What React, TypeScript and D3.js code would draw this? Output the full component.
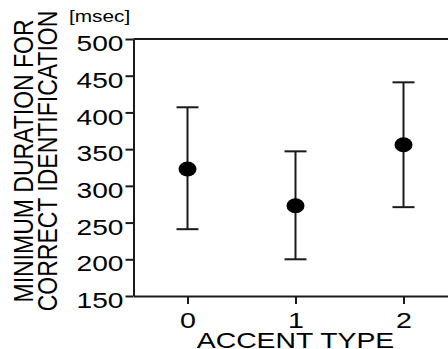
import React, { useEffect, useRef } from 'react';
import * as d3 from 'd3';

// values (msec)
const accentTypes = [0, 1, 2];
const meanDuration = [323, 273, 356];
const upperDuration = [407, 347, 441];
const lowerDuration = [241, 200, 271];
const yTickValues = [150, 200, 250, 300, 350, 400, 450, 500];
const yLabelLines = ['MINIMUM DURATION FOR', 'CORRECT IDENTIFICATION'];
const xLabel = 'ACCENT TYPE';
const unitLabel = '[msec]';

const W = 448;
const H = 349;
const FONT = '"Liberation Sans", Arial, Helvetica, sans-serif';
const INK = '#1a1a1a';

const App: React.FC = () => {
  const svgRef = useRef<SVGSVGElement>(null);

  useEffect(() => {
    if (!svgRef.current) return;
    const root = d3.select(svgRef.current);
    root.selectAll('*').remove();

    const margin = { top: 39, left: 133.5, bottom: 296 };

    // x runs past the right edge of the picture (the frame is cut off there)
    const x = d3.scaleLinear().domain([-0.5, 2.5]).range([margin.left, margin.left + 324]);
    const y = d3.scaleLinear().domain([150, 500]).range([margin.bottom, margin.top]);

    // Y axis
    const yAxis = root
      .append('g')
      .attr('transform', `translate(${margin.left},0)`)
      .call(d3.axisLeft(y).tickValues(yTickValues).tickSize(8).tickSizeOuter(0));
    yAxis.select('.domain').attr('stroke', INK).attr('stroke-width', 2);
    yAxis.selectAll('.tick line').attr('stroke', INK).attr('stroke-width', 2);
    yAxis
      .selectAll('.tick text')
      .attr('x', 0)
      .attr('dy', '0.35em')
      .attr('transform', 'translate(-10,4) scale(1.28,1)')
      .attr('text-anchor', 'end')
      .attr('fill', '#000')
      .attr('font-family', FONT)
      .attr('font-size', 22);

    // X axis
    const xAxis = root
      .append('g')
      .attr('transform', `translate(0,${margin.bottom})`)
      .call(
        d3
          .axisBottom(x)
          .tickValues(accentTypes)
          .tickFormat(d3.format('d'))
          .tickSize(8)
          .tickSizeOuter(0)
      );
    xAxis.select('.domain').attr('stroke', INK).attr('stroke-width', 2);
    xAxis.selectAll('.tick line').attr('stroke', INK).attr('stroke-width', 2);
    xAxis
      .selectAll('.tick text')
      .attr('y', 0)
      .attr('dy', 0)
      .attr('transform', 'translate(0,32) scale(1.3,1)')
      .attr('fill', '#000')
      .attr('font-family', FONT)
      .attr('font-size', 22);

    // top frame line
    root
      .append('line')
      .attr('x1', x(-0.5))
      .attr('x2', x(2.5))
      .attr('y1', y(500))
      .attr('y2', y(500))
      .attr('stroke', INK)
      .attr('stroke-width', 2);

    // error bars
    const capHalf = 11;
    const bars = root
      .selectAll('.err')
      .data(accentTypes)
      .enter()
      .append('g')
      .attr('class', 'err')
      .attr('stroke', INK)
      .attr('stroke-width', 2);
    bars
      .append('line')
      .attr('x1', (d) => x(d))
      .attr('x2', (d) => x(d))
      .attr('y1', (d, i) => y(upperDuration[i]))
      .attr('y2', (d, i) => y(lowerDuration[i]));
    bars
      .append('line')
      .attr('x1', (d) => x(d) - capHalf)
      .attr('x2', (d) => x(d) + capHalf)
      .attr('y1', (d, i) => y(upperDuration[i]))
      .attr('y2', (d, i) => y(upperDuration[i]));
    bars
      .append('line')
      .attr('x1', (d) => x(d) - capHalf)
      .attr('x2', (d) => x(d) + capHalf)
      .attr('y1', (d, i) => y(lowerDuration[i]))
      .attr('y2', (d, i) => y(lowerDuration[i]));

    // means
    root
      .selectAll('.mean')
      .data(accentTypes)
      .enter()
      .append('ellipse')
      .attr('class', 'mean')
      .attr('cx', (d) => x(d))
      .attr('cy', (d, i) => y(meanDuration[i]))
      .attr('rx', 9)
      .attr('ry', 7.5)
      .attr('fill', '#000');

    // x label (cut by the bottom edge, as in the source)
    root
      .append('g')
      .attr('transform', `translate(${x(1)},348) scale(1.29,1)`)
      .append('text')
      .attr('text-anchor', 'middle')
      .attr('font-family', FONT)
      .attr('font-size', 22)
      .attr('fill', '#000')
      .text(xLabel);

    // y label, two rotated lines
    const yLabelX = [33, 57];
    yLabelLines.forEach((line, i) => {
      root
        .append('g')
        .attr('transform', `translate(${yLabelX[i]},${161}) scale(1.22,1) rotate(-90)`)
        .append('text')
        .attr('text-anchor', 'middle')
        .attr('font-family', FONT)
        .attr('font-size', 23)
        .attr('fill', '#000')
        .text(line);
    });

    // unit
    root
      .append('g')
      .attr('transform', 'translate(69,22) scale(1.3,1)')
      .append('text')
      .attr('font-family', FONT)
      .attr('font-size', 16)
      .attr('fill', '#000')
      .text(unitLabel);
  }, []);

  return (
    <svg
      ref={svgRef}
      width={W}
      height={H}
      style={{ position: 'absolute', left: 0, top: 0, background: '#fff', overflow: 'hidden' }}
    ></svg>
  );
};

export default App;
